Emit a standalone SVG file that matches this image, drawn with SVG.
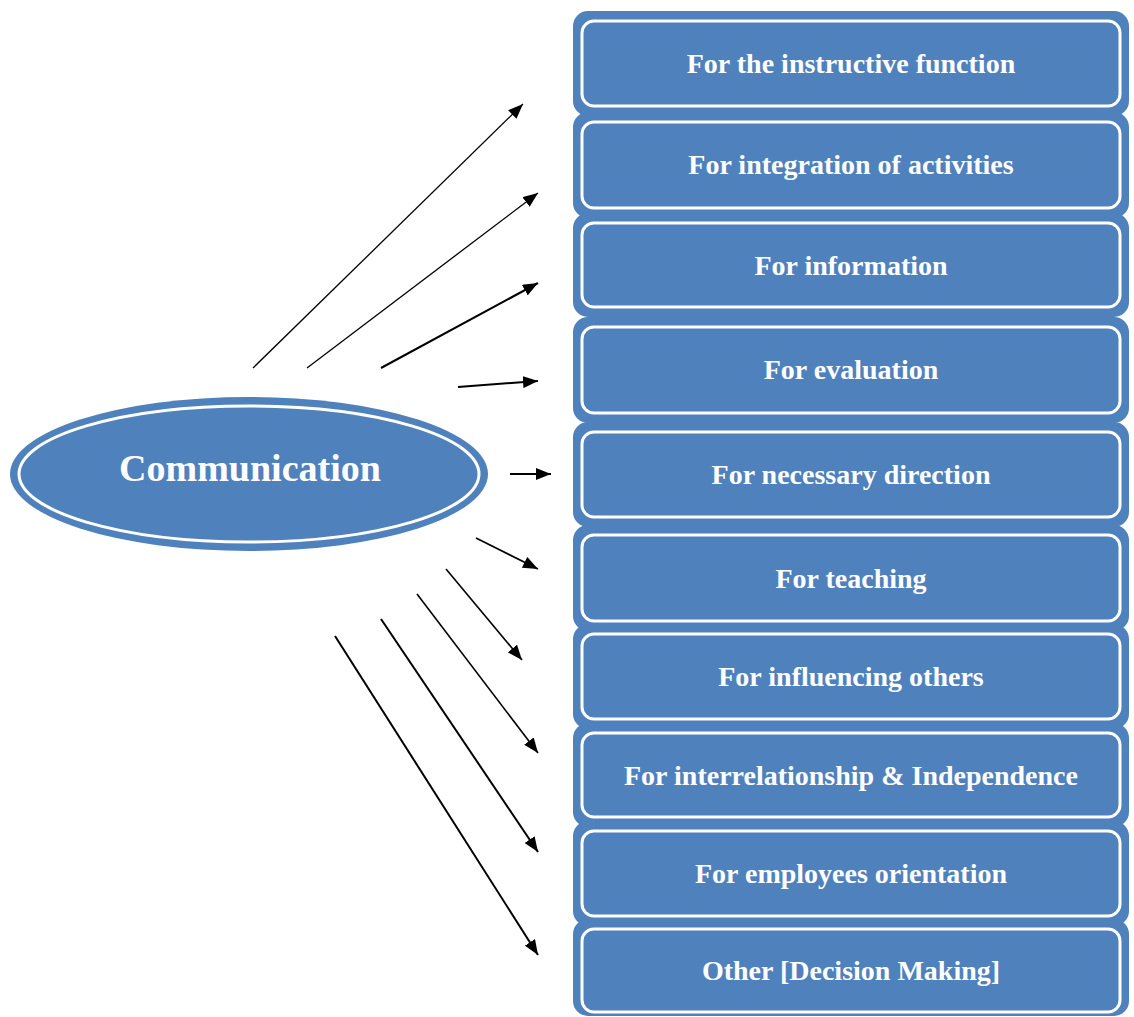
<svg xmlns="http://www.w3.org/2000/svg" width="1134" height="1017" viewBox="0 0 1134 1017">
  <style>
    .outer { fill: #4F81BD; }
    .inner { fill: #4F81BD; stroke: #FFFFFF; stroke-width: 3; }
    .label { fill: #FFFFFF; font-family: "Liberation Serif", "Times New Roman", serif; font-weight: bold; font-size: 28px; text-anchor: middle; }
    .hub { fill: #FFFFFF; font-family: "Liberation Serif", "Times New Roman", serif; font-weight: bold; font-size: 38px; text-anchor: middle; }
    .conn { stroke: #000000; fill: none; marker-end: url(#arrow); }
  </style>
  <defs>
    <marker id="arrow" markerUnits="userSpaceOnUse" markerWidth="16" markerHeight="12" refX="15" refY="6" orient="auto">
      <path d="M0,0 L15,6 L0,12 Z" fill="#000000"/>
    </marker>
  </defs>
  <rect width="1134" height="1017" fill="#FFFFFF"/>

  <!-- central node -->
  <g id="communication">
    <ellipse cx="249" cy="474" rx="239" ry="77" class="outer"/>
    <ellipse cx="249" cy="474" rx="230" ry="68" class="inner"/>
    <text x="250" y="481" class="hub">Communication</text>
  </g>

  <!-- purpose boxes -->
  <g id="box-instructive">
    <rect x="573" y="11" width="556" height="105" rx="15" class="outer"/>
    <rect x="582" y="21" width="538" height="85" rx="12" class="inner"/>
    <text x="851" y="73" class="label">For the instructive function</text>
  </g>
  <g id="box-integration">
    <rect x="573" y="112" width="556" height="106" rx="15" class="outer"/>
    <rect x="582" y="122" width="538" height="86" rx="12" class="inner"/>
    <text x="851" y="174" class="label">For integration of activities</text>
  </g>
  <g id="box-information">
    <rect x="573" y="213" width="556" height="104" rx="15" class="outer"/>
    <rect x="582" y="223" width="538" height="84" rx="12" class="inner"/>
    <text x="851" y="275" class="label">For information</text>
  </g>
  <g id="box-evaluation">
    <rect x="573" y="317" width="556" height="106" rx="15" class="outer"/>
    <rect x="582" y="327" width="538" height="86" rx="12" class="inner"/>
    <text x="851" y="379" class="label">For evaluation</text>
  </g>
  <g id="box-direction">
    <rect x="573" y="422" width="556" height="105" rx="15" class="outer"/>
    <rect x="582" y="432" width="538" height="85" rx="12" class="inner"/>
    <text x="851" y="484" class="label">For necessary direction</text>
  </g>
  <g id="box-teaching">
    <rect x="573" y="525" width="556" height="106" rx="15" class="outer"/>
    <rect x="582" y="535" width="538" height="86" rx="12" class="inner"/>
    <text x="851" y="588" class="label">For teaching</text>
  </g>
  <g id="box-influencing">
    <rect x="573" y="624" width="556" height="105" rx="15" class="outer"/>
    <rect x="582" y="634" width="538" height="85" rx="12" class="inner"/>
    <text x="851" y="686" class="label">For influencing others</text>
  </g>
  <g id="box-interrelationship">
    <rect x="573" y="723" width="556" height="104" rx="15" class="outer"/>
    <rect x="582" y="733" width="538" height="84" rx="12" class="inner"/>
    <text x="851" y="785" class="label">For interrelationship &amp; Independence</text>
  </g>
  <g id="box-orientation">
    <rect x="573" y="821" width="556" height="105" rx="15" class="outer"/>
    <rect x="582" y="831" width="538" height="85" rx="12" class="inner"/>
    <text x="851" y="883" class="label">For employees orientation</text>
  </g>
  <g id="box-decision">
    <rect x="573" y="919" width="556" height="97" rx="15" class="outer"/>
    <rect x="582" y="929" width="538" height="83" rx="12" class="inner"/>
    <text x="851" y="980" class="label">Other [Decision Making]</text>
  </g>

  <!-- connectors from the central node to each box -->
  <g id="connectors">
    <line x1="253" y1="368" x2="523" y2="104" class="conn" stroke-width="1.3"/>
    <line x1="307" y1="368" x2="538" y2="193" class="conn" stroke-width="1.3"/>
    <line x1="381" y1="368" x2="538" y2="283" class="conn" stroke-width="2"/>
    <line x1="458" y1="387" x2="538" y2="381" class="conn" stroke-width="2"/>
    <line x1="510" y1="474" x2="551" y2="474" class="conn" stroke-width="2"/>
    <line x1="476" y1="538" x2="538" y2="569" class="conn" stroke-width="1.6"/>
    <line x1="446" y1="569" x2="522" y2="660" class="conn" stroke-width="1.6"/>
    <line x1="417" y1="594" x2="538" y2="753" class="conn" stroke-width="1.6"/>
    <line x1="381" y1="619" x2="538" y2="852" class="conn" stroke-width="2"/>
    <line x1="335" y1="636" x2="538" y2="955" class="conn" stroke-width="2"/>
  </g>
</svg>
